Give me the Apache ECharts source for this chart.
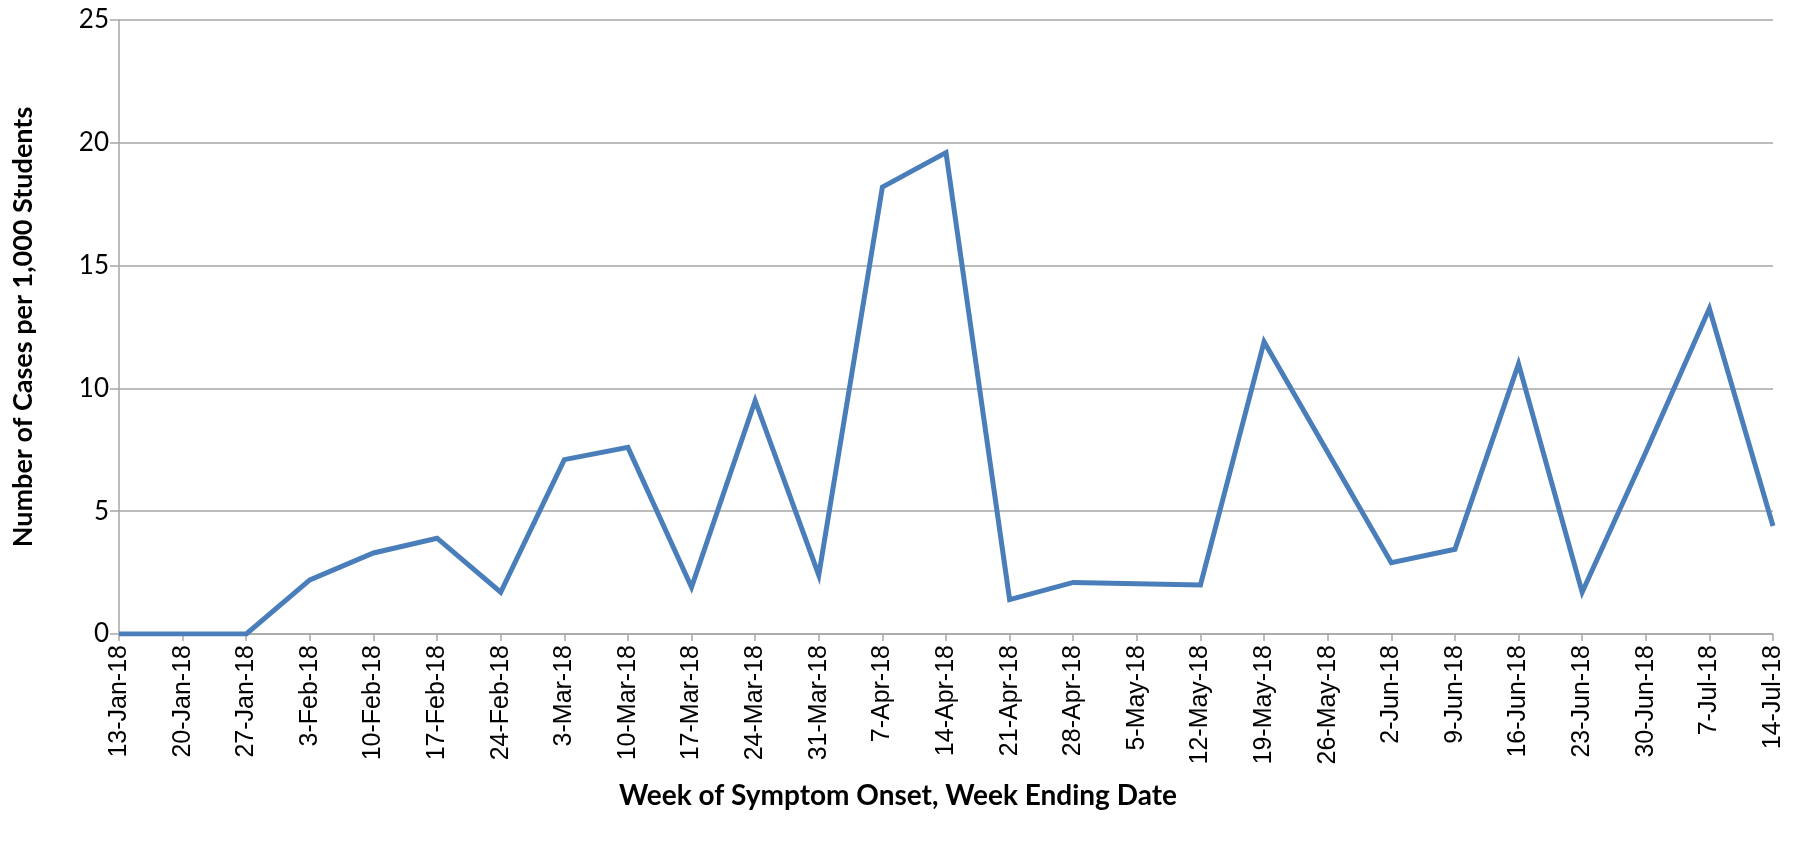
<!DOCTYPE html>
<html>
<head>
<meta charset="utf-8">
<script src="https://cdn.jsdelivr.net/npm/echarts@6/dist/echarts.min.js"></script>
<style>
  html, body { margin: 0; padding: 0; background: #fff; }
  #chart { width: 1795px; height: 843px; }
</style>
</head>
<body>
<div id="chart"></div>
<script>
// week ending dates
const weeks = [
  '13-Jan-18', '20-Jan-18', '27-Jan-18', '3-Feb-18', '10-Feb-18', '17-Feb-18',
  '24-Feb-18', '3-Mar-18', '10-Mar-18', '17-Mar-18', '24-Mar-18', '31-Mar-18',
  '7-Apr-18', '14-Apr-18', '21-Apr-18', '28-Apr-18', '5-May-18', '12-May-18',
  '19-May-18', '26-May-18', '2-Jun-18', '9-Jun-18', '16-Jun-18', '23-Jun-18',
  '30-Jun-18', '7-Jul-18', '14-Jul-18',
]

// cases per 1,000 students
const casesPer1000 = [
  0, 0, 0, 2.2, 3.3, 3.9,
  1.7, 7.1, 7.6, 1.9, 9.5, 2.4,
  18.2, 19.6, 1.4, 2.1, 2.05, 2.0,
  11.9, 7.4, 2.9, 3.45, 11.0, 1.7,
  7.4, 13.25, 4.4,
]

const yTicks = [0, 5, 10, 15, 20, 25]

const chart = echarts.init(document.getElementById('chart'))

const axisGray = '#a6a6a6'
const textColor = '#000'

chart.setOption({
  backgroundColor: '#fff',
  animation: false,
  grid: { top: 20, left: 119, right: 22, bottom: 209 },
  xAxis: {
    type: 'category',
    data: weeks,
    boundaryGap: false,
    name: 'Week of Symptom Onset, Week Ending Date',
    nameLocation: 'middle',
    nameGap: 148,
    // title sits a bit left of the plot centre in the original
    nameTextStyle: {
      fontFamily: 'Lato', fontWeight: 'bold', fontSize: 28, color: textColor,
      padding: [0, 96, 0, 0],
    },
    axisLine: { lineStyle: { color: axisGray, width: 1.5 } },
    axisTick: { show: true, alignWithLabel: true, length: 7, lineStyle: { color: axisGray, width: 1.5 } },
    axisLabel: {
      rotate: 90,
      interval: 0,
      margin: 11,
      fontFamily: 'Liberation Sans',
      fontSize: 25,
      color: textColor,
    },
  },
  yAxis: {
    type: 'value',
    min: yTicks[0],
    max: yTicks[yTicks.length - 1],
    interval: 5,
    name: 'Number of Cases per 1,000 Students',
    nameLocation: 'middle',
    nameGap: 82,
    nameTextStyle: { fontFamily: 'Lato', fontWeight: 'bold', fontSize: 27, color: textColor },
    axisLine: { show: true, lineStyle: { color: axisGray, width: 1.5 } },
    axisTick: { show: true, length: 9, lineStyle: { color: axisGray, width: 1.5 } },
    splitLine: { lineStyle: { color: axisGray, width: 1.5 } },
    axisLabel: { margin: 10, fontFamily: 'Lato', fontSize: 26, color: textColor },
  },
  series: [
    {
      type: 'line',
      data: casesPer1000,
      showSymbol: false,
      lineStyle: { color: '#4a7ebb', width: 5, join: 'miter' },
      itemStyle: { color: '#4a7ebb' },
    },
  ],
})
</script>
</body>
</html>
